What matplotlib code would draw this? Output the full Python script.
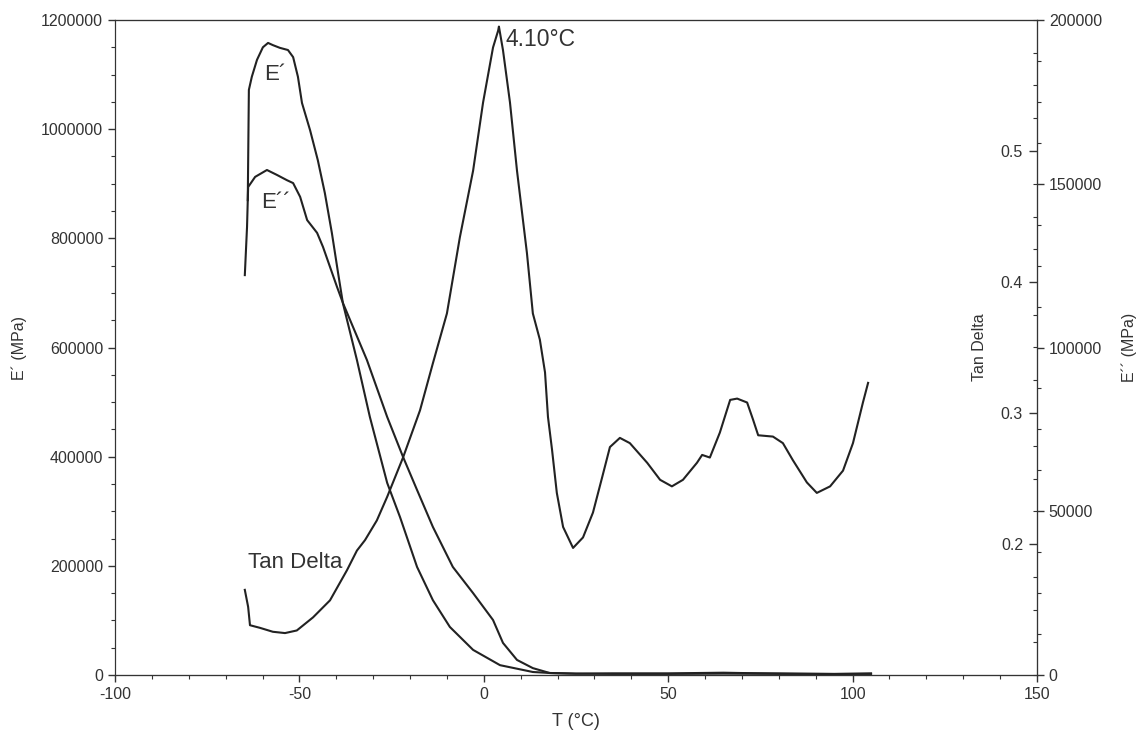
import matplotlib
matplotlib.use("Agg")
import matplotlib.pyplot as plt
from matplotlib.ticker import MultipleLocator, ScalarFormatter

plt.rcParams['font.family'] = ['Liberation Sans', 'DejaVu Sans']

# Storage modulus E' (left axis, MPa)
e1_T = [-64.0, -63.7, -62.9, -61.5, -59.9, -58.5, -57.2, -55.3, -53.1, -51.7, -50.4, -49.3,
        -47.1, -45.0, -43.1, -41.2, -39.5, -38.2, -34.4, -30.9, -26.2, -22.7, -18.1, -13.8,
        -9.2, -2.9, 4.4, 13.3, 17.9, 25.0, 35.0, 50.0, 65.0, 80.0, 95.0, 105.0]
e1_val = [870000, 1072000, 1096000, 1127000, 1150000, 1158000, 1154000, 1149000, 1145000,
          1132000, 1096000, 1048000, 998000, 943000, 883000, 810000, 736000, 681000, 577000,
          473000, 352000, 289000, 198000, 137000, 88000, 46000, 18000, 5500, 3700, 2500,
          2000, 2000, 2500, 2000, 2000, 2000]

# Loss modulus E'' (right axis, MPa)
e2_T = [-64.8, -64.2, -63.9, -62.0, -58.8, -56.1, -53.4, -51.7, -49.8, -47.9, -45.2, -43.6,
        -41.7, -39.8, -38.2, -31.7, -26.2, -21.9, -18.1, -13.8, -8.4, -2.9, 2.5, 5.2, 9.0,
        13.3, 17.9, 25.0, 35.0, 50.0, 65.0, 70.0, 80.0, 95.0, 105.0]
e2_val = [122100, 136800, 149000, 152100, 154200, 152700, 151100, 150200, 146000, 138900,
          135000, 130700, 124600, 118500, 113600, 96200, 78800, 66600, 56500, 45200, 33000,
          25000, 16800, 9800, 4600, 2100, 600, 400, 500, 500, 700, 600, 500, 300, 500]

# Tan Delta (inner right axis)
td_T = [-64.8, -63.9, -63.4, -60.7, -57.2, -53.9, -50.7, -46.3, -41.7, -37.1, -34.4, -32.2,
        -29.0, -26.2, -21.9, -17.3, -13.8, -10.0, -6.5, -2.9, -0.2, 2.5, 3.9, 4.1, 5.2, 7.1,
        9.0, 11.7, 13.3, 15.2, 16.6, 17.4, 18.5, 19.8, 21.5, 24.2, 26.9, 29.6, 32.1, 34.2,
        36.9, 39.6, 44.3, 47.8, 51.0, 54.0, 57.8, 59.2, 61.3, 64.0, 66.8, 68.7, 71.4, 73.0,
        74.4, 78.4, 81.1, 83.8, 87.6, 90.3, 93.9, 97.4, 100.1, 102.8, 104.2]
td_val = [0.165, 0.152, 0.138, 0.136, 0.133, 0.132, 0.134, 0.144, 0.157, 0.180, 0.195, 0.203,
          0.218, 0.236, 0.266, 0.302, 0.338, 0.376, 0.434, 0.485, 0.537, 0.579, 0.592, 0.595,
          0.577, 0.537, 0.485, 0.422, 0.376, 0.356, 0.331, 0.297, 0.272, 0.239, 0.213, 0.197,
          0.205, 0.224, 0.251, 0.274, 0.281, 0.277, 0.262, 0.249, 0.244, 0.249, 0.262, 0.268,
          0.266, 0.285, 0.310, 0.311, 0.308, 0.295, 0.283, 0.282, 0.277, 0.264, 0.247, 0.239,
          0.244, 0.256, 0.277, 0.308, 0.323]

x_ticks = [-100, -50, 0, 50, 100, 150]
tan_ticks = [0.2, 0.3, 0.4, 0.5]

line_kw = dict(color='#222222', lw=1.5)
txt = '#333333'

fig = plt.figure(figsize=(11.43, 7.40), dpi=100)
ax = fig.add_axes([115/1143, 1-675/740, (1037-115)/1143, (675-20)/740])
ax2 = ax.twinx()
ax3 = ax.twinx()

ax.plot(e1_T, e1_val, **line_kw)
ax2.plot(e2_T, e2_val, **line_kw)
ax3.plot(td_T, td_val, **line_kw)

ax.set_xlim(-100, 150)
ax.set_ylim(0, 1200000)
ax2.set_ylim(0, 200000)
ax3.set_ylim(0.1, 0.6)

fs = 11.5
ax.set_xticks(x_ticks)
ax.set_xticklabels([str(v) for v in x_ticks])
ax.xaxis.set_minor_locator(MultipleLocator(10))
ax.yaxis.set_major_locator(MultipleLocator(200000))
ax.yaxis.set_minor_locator(MultipleLocator(50000))
fmt = ScalarFormatter(useOffset=False)
fmt.set_scientific(False)
ax.yaxis.set_major_formatter(fmt)
ax2.yaxis.set_major_locator(MultipleLocator(50000))
ax2.yaxis.set_minor_locator(MultipleLocator(12500))

for a in (ax, ax2, ax3):
    a.tick_params(which='major', length=5, width=1, labelsize=fs, color=txt, labelcolor=txt)
    a.tick_params(which='minor', length=3, width=0.8, color=txt)
    for s in a.spines.values():
        s.set_color(txt)

# Tan Delta axis: ticks & labels on the inner side of the right spine
ax3.spines['left'].set_position(('axes', 1.0))
ax3.spines['left'].set_visible(True)
ax3.spines['right'].set_visible(False)
ax3.yaxis.set_ticks_position('left')
ax3.yaxis.set_label_position('left')
ax3.set_yticks(tan_ticks)
ax3.set_yticklabels([f'{v:.1f}' for v in tan_ticks])
ax3.yaxis.set_minor_locator(MultipleLocator(0.025))
ax3.tick_params(which='major', length=6, pad=4)

ax.set_xlabel('T (°C)', fontsize=13, color=txt, labelpad=8)
ax.set_ylabel('E´ (MPa)', fontsize=fs, color=txt, labelpad=10)
ax2.set_ylabel('E´´ (MPa)', fontsize=fs, color=txt, labelpad=14)
ax3.set_ylabel('Tan Delta', fontsize=fs, color=txt, labelpad=10)

ax.text(-59.5, 1100000, 'E´', fontsize=16, color=txt, ha='left', va='center')
ax.text(-60.5, 865000, 'E´´', fontsize=16, color=txt, ha='left', va='center')
ax.text(-64.0, 207000, 'Tan Delta', fontsize=16, color=txt, ha='left', va='center')
ax3.text(6.0, 0.585, '4.10°C', fontsize=16.5, color=txt, ha='left', va='center')

fig.savefig('out.png', dpi=100)
